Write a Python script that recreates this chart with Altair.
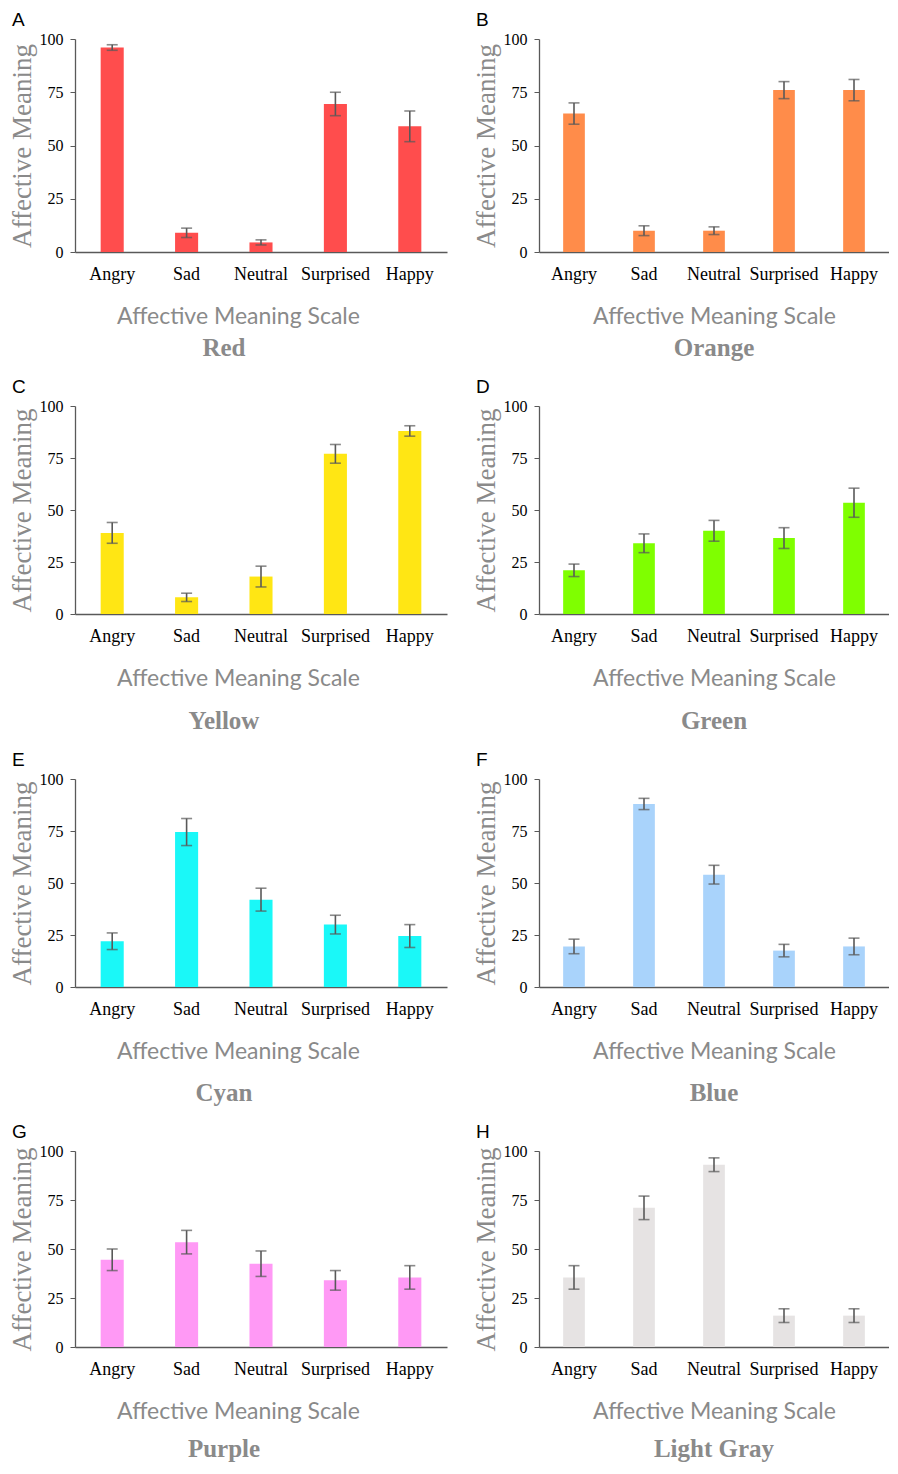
import altair as alt
import pandas as pd

categories = ["Angry", "Sad", "Neutral", "Surprised", "Happy"]
panel_letters = ["A", "B", "C", "D", "E", "F", "G", "H"]
color_names = ["Red", "Orange", "Yellow", "Green", "Cyan", "Blue", "Purple", "Light Gray"]
bar_colors = ["#FF4D4D", "#FF8C4A", "#FFE614", "#7FFF00", "#1AF8F8", "#A9D3FB", "#FF99F5", "#E6E3E3"]

red_means = [96, 9, 4.5, 69.5, 59]
red_errors = [1.3, 2.2, 1.2, 5.5, 7.2]
orange_means = [65, 10, 10, 76, 76]
orange_errors = [5, 2.3, 1.8, 4, 5]
yellow_means = [39, 8, 18, 77, 88]
yellow_errors = [5, 2, 5, 4.5, 2.5]
green_means = [21, 34, 40, 36.5, 53.5]
green_errors = [3, 4.5, 5, 5, 7]
cyan_means = [22, 74.5, 42, 30, 24.5]
cyan_errors = [4, 6.5, 5.5, 4.5, 5.5]
blue_means = [19.5, 88, 54, 17.5, 19.5]
blue_errors = [3.5, 2.7, 4.5, 3, 4]
purple_means = [44.5, 53.5, 42.5, 34, 35.5]
purple_errors = [5.5, 6, 6.5, 5, 6]
gray_means = [35.5, 71, 93, 16, 16]
gray_errors = [6, 6, 3.5, 3.5, 3.5]

all_means = [red_means, orange_means, yellow_means, green_means,
             cyan_means, blue_means, purple_means, gray_means]
all_errors = [red_errors, orange_errors, yellow_errors, green_errors,
              cyan_errors, blue_errors, purple_errors, gray_errors]

# layout settings (per column / per row)
col_widths = [372, 350]
col_xtitle_shift = [-23, 0]
col_name_dx = [-37, 0]
row_heights = [213, 208, 208, 196]
row_name_offsets = [8, 19, 18, 14]

AXIS_GRAY = "#595959"
TITLE_GRAY = "#8a8a8a"


def panel(letter, name, color, means, errors, W, H, xshift, name_dx, name_off):
    df = pd.DataFrame({
        "category": categories,
        "mean": means,
        "lo": [m - e for m, e in zip(means, errors)],
        "hi": [m + e for m, e in zip(means, errors)],
    })
    base = alt.Chart(df)
    x = alt.X("category:N", sort=categories,
              scale=alt.Scale(paddingInner=0.69, paddingOuter=0.345),
              axis=alt.Axis(title="Affective Meaning Scale", labelAngle=0, ticks=False,
                            domainColor=AXIS_GRAY, domainWidth=1.3,
                            labelFont="Liberation Serif", labelFontSize=18, labelColor="black",
                            labelPadding=13,
                            titleFont="Lato", titleFontSize=23, titleFontWeight="normal",
                            titleColor=TITLE_GRAY, titlePadding=22, titleX=W / 2 + xshift))
    y_scale = alt.Scale(domain=[0, 100], nice=False)
    bars = base.mark_bar(color=color).encode(
        x=x,
        y=alt.Y("mean:Q", scale=y_scale,
                axis=alt.Axis(title="Affective Meaning", values=[0, 25, 50, 75, 100],
                              grid=False, tickSize=5, tickColor=AXIS_GRAY,
                              domainColor=AXIS_GRAY, domainWidth=1.3,
                              labelFont="Liberation Serif", labelFontSize=16,
                              labelColor="black", labelPadding=7,
                              titleFont="Liberation Serif", titleFontSize=27,
                              titleFontWeight="normal", titleColor=TITLE_GRAY,
                              titlePadding=3)),
    )
    rule = base.mark_rule(color=AXIS_GRAY, strokeWidth=1.6).encode(
        x=alt.X("category:N", sort=categories),
        y=alt.Y("lo:Q", scale=y_scale),
        y2="hi:Q",
    )
    cap_hi = base.mark_tick(color=AXIS_GRAY, thickness=1.6, size=11).encode(
        x=alt.X("category:N", sort=categories),
        y=alt.Y("hi:Q", scale=y_scale),
    )
    cap_lo = base.mark_tick(color=AXIS_GRAY, thickness=1.6, size=11).encode(
        x=alt.X("category:N", sort=categories),
        y=alt.Y("lo:Q", scale=y_scale),
    )
    lab = alt.Chart(pd.DataFrame({"t": [letter]})).mark_text(
        align="left", baseline="middle", font="Liberation Sans", fontSize=19, color="black"
    ).encode(x=alt.value(-63), y=alt.value(-19), text="t:N")
    return alt.layer(bars, rule, cap_hi, cap_lo, lab).properties(
        width=W, height=H,
        title=alt.TitleParams(name, orient="bottom", anchor="middle", frame="group",
                              font="Liberation Serif", fontSize=25, fontWeight="bold",
                              color=TITLE_GRAY, offset=name_off, dx=name_dx),
    )


panels = []
for i in range(8):
    r, c = divmod(i, 2)
    panels.append(panel(panel_letters[i], color_names[i], bar_colors[i],
                        all_means[i], all_errors[i], col_widths[c], row_heights[r],
                        col_xtitle_shift[c], col_name_dx[c], row_name_offsets[r]))

rows = [alt.hconcat(panels[i], panels[i + 1], spacing=25) for i in range(0, 8, 2)]
chart = alt.vconcat(*rows, spacing=17).properties(
    padding={"top": 3, "left": 0, "right": 0, "bottom": 0},
    background="white").configure_view(strokeWidth=0)

chart.save("out.html", embed_options={"renderer": "svg", "actions": False})
